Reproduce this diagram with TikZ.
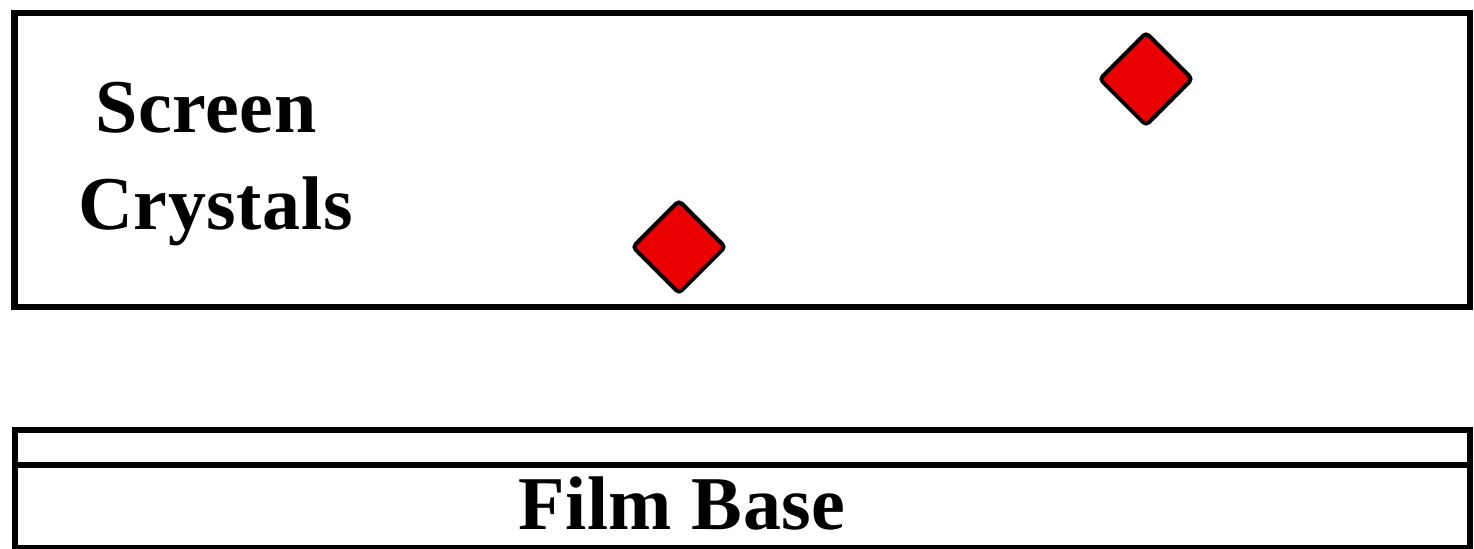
\documentclass[tikz,border=0pt]{standalone}
\usepackage{fontspec}
\setmainfont{Liberation Serif}
\usetikzlibrary{shapes.geometric}
\begin{document}
\begin{tikzpicture}[x=0.5pt,y=-0.5pt,
  layer/.style={draw=black,line width=3.25pt},
  crystal/.style={diamond,draw=black,fill=red!92!black,line width=2pt,minimum width=47pt,minimum height=47pt,inner sep=0pt,rounded corners=2pt},
  lbl/.style={font=\fontsize{38pt}{40pt}\selectfont\bfseries\addfontfeatures{LetterSpace=0.8},inner sep=0pt,anchor=base west}]
\useasboundingbox (0,0) rectangle (1474,549);
\draw[layer] (14.5,13) rectangle (1470,307);
\draw[layer] (15,430) rectangle (1470,548);
\draw[layer] (15,465) -- (1470,465);
\node[crystal] (c1) at (1146,79) {};
\node[crystal] (c2) at (679,247) {};
\node[lbl] (screen) at (95,133) {Screen};
\node[lbl] (crystals) at (78,230) {Crystals};
\node[lbl] (film) at (518,530) {Film Base};
\end{tikzpicture}
\end{document}
